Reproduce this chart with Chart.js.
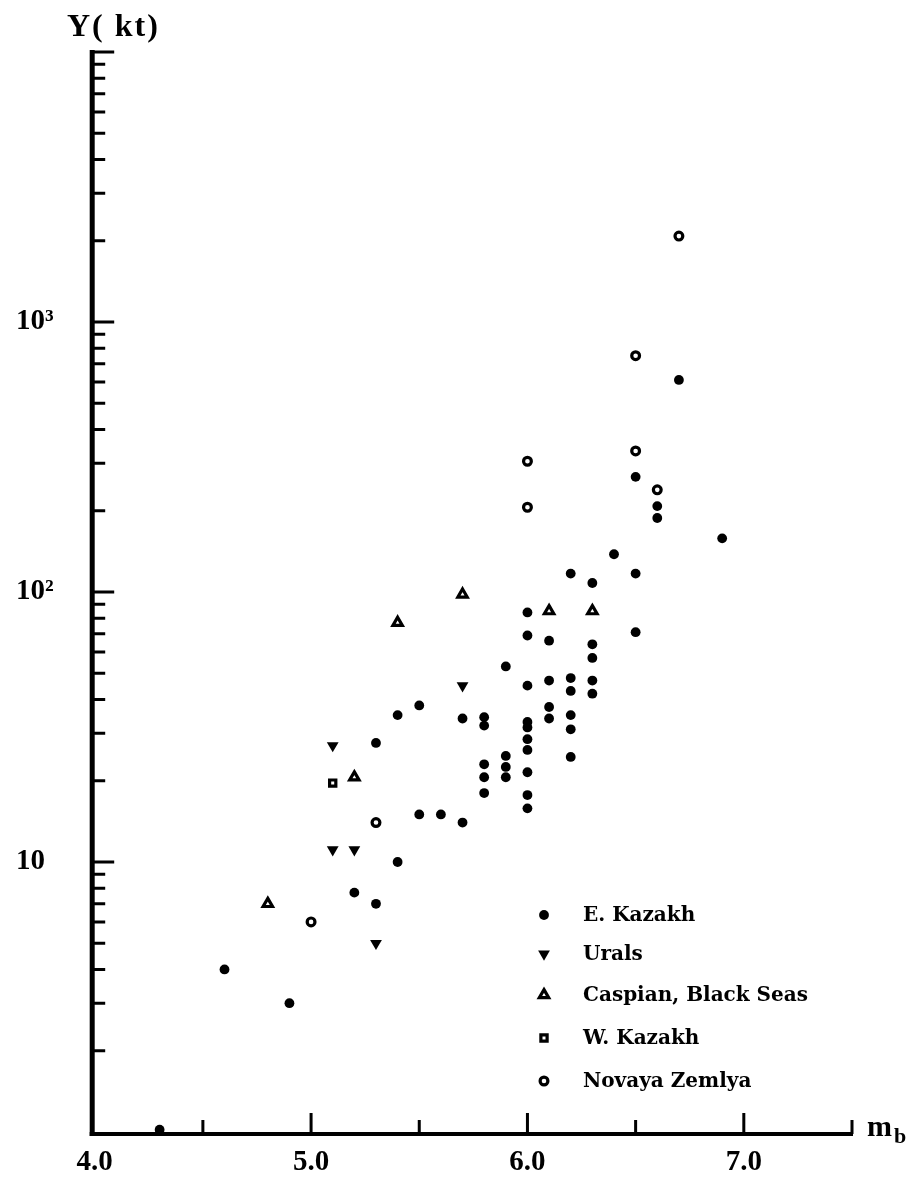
<!DOCTYPE html>
<html>
<head>
<meta charset="utf-8">
<title>Yield versus body-wave magnitude</title>
<script src="https://cdn.jsdelivr.net/npm/chart.js@4.4.1/dist/chart.umd.min.js"></script>
<style>
  html, body { margin: 0; padding: 0; background: #fff; }
  canvas { display: block; }
</style>
</head>
<body>
<canvas id="chart" width="924" height="1179"></canvas>
<script>
// Body-wave magnitude (mb) and yield (kt) for each test site
const eKazakhMb    = [4.3, 4.6, 4.9, 5.2, 5.3, 5.3, 5.4, 5.4, 5.5, 5.5, 5.6, 5.7, 5.7,
                      5.8, 5.8, 5.8, 5.8, 5.8, 5.9, 5.9, 5.9, 5.9,
                      6.0, 6.0, 6.0, 6.0, 6.0, 6.0, 6.0, 6.0, 6.0, 6.0,
                      6.1, 6.1, 6.1, 6.1, 6.2, 6.2, 6.2, 6.2, 6.2, 6.2,
                      6.3, 6.3, 6.3, 6.3, 6.3, 6.4, 6.5, 6.5, 6.5, 6.6, 6.6, 6.7, 6.9];
const eKazakhYield = [1.02, 4, 3, 7.7, 7, 27.6, 10, 35, 15, 38, 15, 14, 34,
                      18, 20.6, 23, 32, 34.4, 20.6, 22.5, 24.7, 53,
                      15.8, 17.7, 21.5, 26, 28.5, 31.5, 33, 45, 69, 84,
                      34, 37.5, 47, 66, 24.5, 31, 35, 43, 48, 117,
                      42, 47, 57, 64, 108, 138, 71, 117, 267, 188, 208, 610, 158];

const uralsMb    = [5.1, 5.1, 5.2, 5.3, 5.7];
const uralsYield = [27, 11.1, 11.1, 5, 45];

const caspianMb    = [4.8, 5.2, 5.4, 5.7, 6.1, 6.3];
const caspianYield = [7, 20.6, 77, 98, 85, 85];

const wKazakhMb    = [5.1];
const wKazakhYield = [19.6];

const novayaMb    = [5.0, 5.3, 6.0, 6.0, 6.5, 6.5, 6.6, 6.7];
const novayaYield = [6, 14, 206, 305, 333, 750, 239, 2080];

const seriesNames = ['E. Kazakh', 'Urals', 'Caspian, Black Seas', 'W. Kazakh', 'Novaya Zemlya'];

// Axis ticks and labels
const xTickValues = [4, 5, 6, 7];
const xTickLabels = ['4.0', '5.0', '6.0', '7.0'];
const xMinorTicks = [4.5, 5.5, 6.5, 7.5];
const yTickValues = [10, 100, 1000];
const yTickLabels = ['10', '10\u00B2', '10\u00B3'];
const yMajorMarks = [10, 100, 1000, 10000];
const yMinorMarks = [2, 3, 4, 5, 6, 7, 8, 9,
                     20, 30, 40, 50, 60, 70, 80, 90,
                     200, 300, 400, 500, 600, 700, 800, 900,
                     2000, 3000, 4000, 5000, 6000, 7000, 8000, 9000];

const toPoints = (xs, ys) => xs.map((v, i) => ({ x: v, y: ys[i] }));

const markerStyles = [
  { pointStyle: 'circle',   rotation: 0,   radius: 4.9, borderWidth: 0,   backgroundColor: '#000', borderColor: '#000' },
  { pointStyle: 'triangle', rotation: 180, radius: 6.8, borderWidth: 0,   backgroundColor: '#000', borderColor: '#000' },
  { pointStyle: 'triangle', rotation: 0,   radius: 5.4, borderWidth: 3.2, backgroundColor: '#fff', borderColor: '#000' },
  { pointStyle: 'rect',     rotation: 0,   radius: 4.4, borderWidth: 3.2, backgroundColor: '#fff', borderColor: '#000' },
  { pointStyle: 'circle',   rotation: 0,   radius: 3.9, borderWidth: 3.2, backgroundColor: '#fff', borderColor: '#000' }
];

const seriesData = [
  toPoints(eKazakhMb, eKazakhYield),
  toPoints(uralsMb, uralsYield),
  toPoints(caspianMb, caspianYield),
  toPoints(wKazakhMb, wKazakhYield),
  toPoints(novayaMb, novayaYield)
];

const datasets = seriesData.map((pts, i) => ({
  label: seriesNames[i],
  data: pts,
  pointStyle: markerStyles[i].pointStyle,
  rotation: markerStyles[i].rotation,
  pointRadius: markerStyles[i].radius,
  pointHoverRadius: markerStyles[i].radius,
  pointBorderWidth: markerStyles[i].borderWidth,
  pointBackgroundColor: markerStyles[i].backgroundColor,
  pointBorderColor: markerStyles[i].borderColor,
  showLine: false,
  clip: false
}));

const labelFont = { family: 'Liberation Serif', size: 29, weight: 'bold' };

// Axis lines, inward tick marks, axis titles and the key
const framePlugin = {
  id: 'frame',
  beforeDraw(chart) {
    const c = chart.ctx;
    c.save();
    c.fillStyle = '#fff';
    c.fillRect(0, 0, chart.width, chart.height);
    c.restore();
  },
  beforeDatasetsDraw(chart) {
    const c = chart.ctx;
    const xs = chart.scales.x, ys = chart.scales.y;
    const axisX = xs.getPixelForValue(4) - 2.5;
    const axisY = ys.getPixelForValue(1) + 2;
    const topY = ys.getPixelForValue(10000);
    const endX = xs.getPixelForValue(7.5);
    c.save();
    c.strokeStyle = '#000';
    c.lineCap = 'butt';
    // vertical axis
    c.lineWidth = 5;
    c.beginPath();
    c.moveTo(axisX, topY - 2);
    c.lineTo(axisX, axisY + 2);
    c.stroke();
    // horizontal axis
    c.lineWidth = 4;
    c.beginPath();
    c.moveTo(axisX - 2.5, axisY);
    c.lineTo(endX + 1, axisY);
    c.stroke();
    // y tick marks, pointing into the plot
    c.lineWidth = 3;
    c.beginPath();
    yMajorMarks.forEach(v => {
      const py = ys.getPixelForValue(v);
      c.moveTo(axisX, py); c.lineTo(axisX + 22, py);
    });
    yMinorMarks.forEach(v => {
      const py = ys.getPixelForValue(v);
      c.moveTo(axisX, py); c.lineTo(axisX + 13, py);
    });
    // x tick marks, pointing up
    xTickValues.slice(1).forEach(v => {
      const px = xs.getPixelForValue(v);
      c.moveTo(px, axisY); c.lineTo(px, axisY - 21);
    });
    xMinorTicks.forEach(v => {
      const px = xs.getPixelForValue(v);
      c.moveTo(px, axisY); c.lineTo(px, axisY - 14);
    });
    c.stroke();
    c.restore();
  },
  afterDraw(chart) {
    const c = chart.ctx;
    c.save();
    c.fillStyle = '#000';
    c.textBaseline = 'alphabetic';
    c.textAlign = 'left';
    // vertical axis title
    c.font = 'bold 32px "Liberation Serif"';
    if ('letterSpacing' in c) c.letterSpacing = '2px';
    c.fillText('Y( kt)', 67, 36);
    if ('letterSpacing' in c) c.letterSpacing = '0px';
    // horizontal axis title m_b
    c.font = 'bold 30px "Liberation Serif"';
    c.fillText('m', 867, 1136);
    c.font = 'bold 22px "Liberation Serif"';
    c.fillText('b', 894, 1143);
    // key
    const keyRows = [915, 954, 995, 1038, 1081];
    c.font = 'bold 20px "DejaVu Serif"';
    c.textBaseline = 'middle';
    seriesNames.forEach((name, i) => {
      const m = markerStyles[i];
      c.fillStyle = m.backgroundColor;
      c.strokeStyle = m.borderColor;
      c.lineWidth = m.borderWidth;
      Chart.helpers.drawPoint(c, {
        pointStyle: m.pointStyle, rotation: m.rotation,
        radius: m.radius, borderWidth: m.borderWidth
      }, 544, keyRows[i]);
      c.fillStyle = '#000';
      c.fillText(name, 583, keyRows[i] + 1);
    });
    c.restore();
  }
};

new Chart(document.getElementById('chart'), {
  type: 'scatter',
  data: { datasets },
  options: {
    responsive: false,
    animation: false,
    events: [],
    layout: { padding: { left: 16, top: 52, right: 72, bottom: 0 } },
    scales: {
      x: {
        type: 'linear',
        min: 4,
        max: 7.5,
        position: 'bottom',
        afterFit: s => { s.height = 47; },
        afterBuildTicks: s => { s.ticks = xTickValues.map(v => ({ value: v })); },
        grid: { display: false, drawTicks: false },
        border: { display: false },
        ticks: {
          autoSkip: false,
          maxRotation: 0,
          padding: 13,
          color: '#000',
          font: labelFont,
          callback: (v, i) => xTickLabels[i]
        }
      },
      y: {
        type: 'logarithmic',
        min: 1,
        max: 10000,
        position: 'left',
        afterFit: s => { s.width = 78.7; },
        afterBuildTicks: s => { s.ticks = yTickValues.map(v => ({ value: v })); },
        grid: { display: false, drawTicks: false },
        border: { display: false },
        ticks: {
          autoSkip: false,
          crossAlign: 'far',
          padding: 0,
          color: '#000',
          font: labelFont,
          callback: (v, i) => yTickLabels[i]
        }
      }
    },
    plugins: {
      legend: { display: false },
      tooltip: { enabled: false }
    }
  },
  plugins: [framePlugin]
});
</script>
</body>
</html>
